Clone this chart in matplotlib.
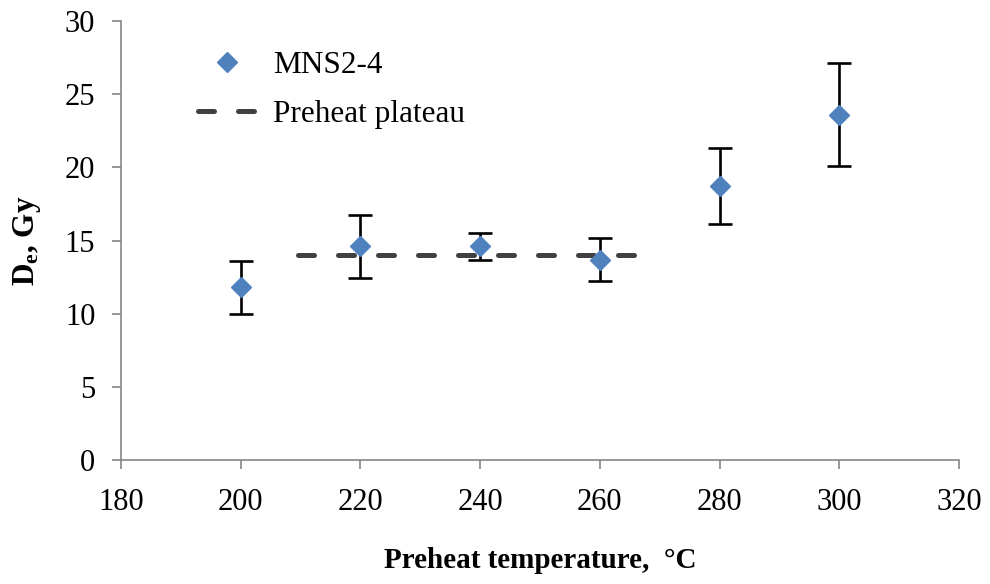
import matplotlib
matplotlib.use("Agg")
import matplotlib.pyplot as plt

plt.rcParams['font.family'] = ['Liberation Serif', 'DejaVu Serif']
plt.rcParams['mathtext.fontset'] = 'custom'
plt.rcParams['mathtext.rm'] = 'Liberation Serif'
plt.rcParams['mathtext.it'] = 'Liberation Serif:italic'
plt.rcParams['mathtext.bf'] = 'Liberation Serif:bold'

temps = [200, 220, 240, 260, 280, 300]
de = [11.8, 14.6, 14.6, 13.7, 18.7, 23.6]
de_err = [1.8, 2.15, 0.9, 1.45, 2.6, 3.5]
plateau_x = [209.5, 266.8]
plateau_y = [14.0, 14.0]

xticks = [180, 200, 220, 240, 260, 280, 300, 320]
yticks = [0, 5, 10, 15, 20, 25, 30]

W, H = 990, 584
fig = plt.figure(figsize=(W / 100, H / 100), dpi=100)
AX_L, AX_R, AX_T, AX_B = 121, 959, 21, 460
ax = fig.add_axes([AX_L / W, (H - AX_B) / H, (AX_R - AX_L) / W, (AX_B - AX_T) / H])

blue = '#4F81BD'
grey = '#868686'

line, = ax.plot(plateau_x, plateau_y, color='#404040', lw=3.6,
                dashes=(3.2, 4.8), dash_capstyle='round', zorder=2,
                label='Preheat plateau')
ax.errorbar(temps, de, yerr=de_err, fmt='none', ecolor='black',
            elinewidth=1.9, capsize=8.5, capthick=1.9, zorder=3)
pts, = ax.plot(temps, de, linestyle='none', marker='D', ms=10,
               color=blue, mec=blue, zorder=4, label='MNS2-4')

ax.set_xlim(180, 320)
ax.set_ylim(0, 30)
ax.set_xticks(xticks)
ax.set_yticks(yticks)
for s in ['top', 'right']:
    ax.spines[s].set_visible(False)
for s in ['left', 'bottom']:
    ax.spines[s].set_color(grey)
    ax.spines[s].set_linewidth(1.2)
ax.tick_params(axis='both', colors=grey, width=1.2, length=6.5, direction='out',
               labelsize=22, labelcolor='black')
ax.tick_params(axis='x', pad=14)
ax.tick_params(axis='y', pad=12)

fig.text(540 / W, 1 - 560 / H, 'Preheat temperature,  \u00b0C', ha='center',
         va='center', fontsize=21, fontweight='bold')
fig.text(27 / W, 1 - 241 / H, r'D$_{\mathbf{e}}$, Gy', ha='center', va='center',
         rotation=90, fontsize=22.5, fontweight='bold')

leg = ax.legend(handles=[pts, line], loc='upper left',
                bbox_to_anchor=((197.5 - AX_L) / (AX_R - AX_L), (AX_B - 51) / (AX_B - AX_T)),
                frameon=False, fontsize=22.5, handlelength=1.86,
                handletextpad=0.56, labelspacing=0.65, borderaxespad=0,
                borderpad=0)

fig.savefig('out.png', dpi=100)
